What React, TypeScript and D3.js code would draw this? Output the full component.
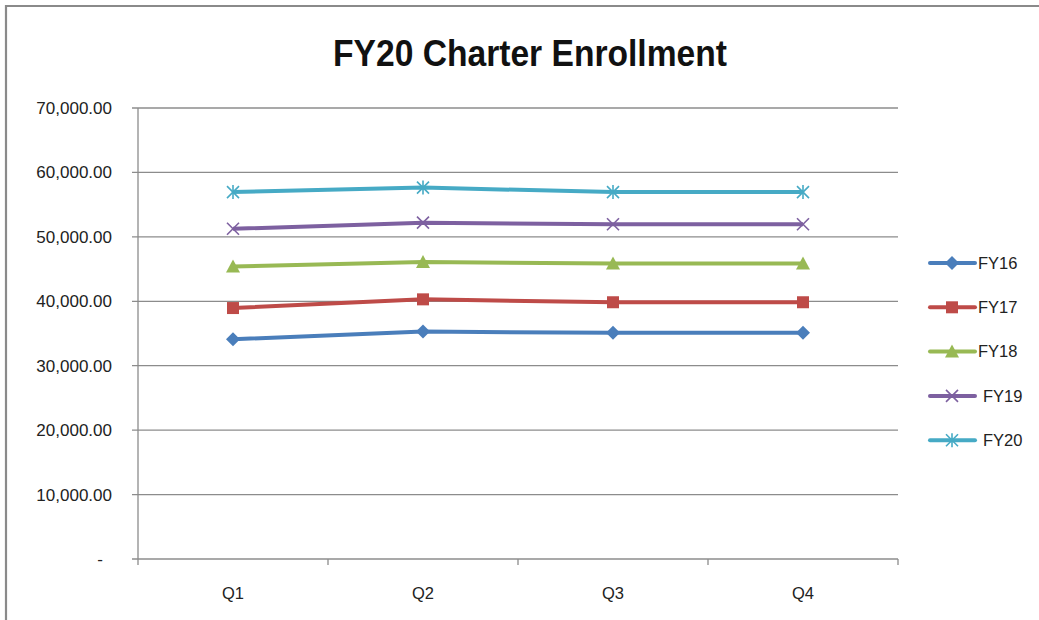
import React from "react";
import * as d3 from "d3";

const quarters = ["Q1", "Q2", "Q3", "Q4"];
const seriesNames = ["FY16", "FY17", "FY18", "FY19", "FY20"];
const fy16 = [34100, 35300, 35100, 35100];
const fy17 = [38950, 40300, 39850, 39850];
const fy18 = [45400, 46100, 45850, 45850];
const fy19 = [51250, 52200, 51950, 51950];
const fy20 = [56950, 57650, 56950, 56950];
const seriesValues = [fy16, fy17, fy18, fy19, fy20];
const seriesColors = ["#4a7ebb", "#be4b48", "#98b954", "#7d60a0", "#46aac5"];
const markerTypes = ["diamond", "square", "triangle", "x", "star"];
const yTicks = [0, 10000, 20000, 30000, 40000, 50000, 60000, 70000];

const W = 1039;
const H = 620;
const plotLeft = 138;
const plotRight = 898;
const plotTop = 108;
const plotBottom = 559;

function Marker({ type, x, y, color }: { type: string; x: number; y: number; color: string }) {
  const s = 6;
  if (type === "diamond") {
    return <path d={`M${x},${y - s - 1}L${x + s + 1},${y}L${x},${y + s + 1}L${x - s - 1},${y}Z`} fill={color} />;
  }
  if (type === "square") {
    return <rect x={x - s} y={y - s} width={2 * s} height={2 * s} fill={color} />;
  }
  if (type === "triangle") {
    return <path d={`M${x},${y - s - 1}L${x + s + 1},${y + s}L${x - s - 1},${y + s}Z`} fill={color} />;
  }
  if (type === "x") {
    return (
      <g stroke={color} strokeWidth={1.6}>
        <line x1={x - s} y1={y - s} x2={x + s} y2={y + s} />
        <line x1={x - s} y1={y + s} x2={x + s} y2={y - s} />
      </g>
    );
  }
  return (
    <g stroke={color} strokeWidth={1.6}>
      <line x1={x - s} y1={y - s} x2={x + s} y2={y + s} />
      <line x1={x - s} y1={y + s} x2={x + s} y2={y - s} />
      <line x1={x} y1={y - s - 1} x2={x} y2={y + s + 1} />
    </g>
  );
}

export default function App() {
  const x = d3.scaleBand<string>().domain(quarters).range([plotLeft, plotRight]);
  const y = d3.scaleLinear().domain([0, 70000]).range([plotBottom, plotTop]);
  const cx = (q: string) => (x(q) as number) + x.bandwidth() / 2;
  const line = d3
    .line<number>()
    .x((_, i) => cx(quarters[i]))
    .y((v) => y(v));
  const fmt = d3.format(",.2f");
  const gridColor = "#8c8c8c";
  const font = "'Liberation Sans', Arial, sans-serif";

  const legendX = 930;
  const legendY0 = 263;
  const legendStep = 44.3;

  return (
    <svg
      width={W}
      height={H}
      style={{ position: "absolute", left: 0, top: 0, background: "#fff" }}
      fontFamily={font}
    >
      <rect x={0} y={0} width={W} height={H} fill="#fff" />
      <path d={`M6,${H + 5}V6H${W + 5}`} fill="none" stroke="#8a8a8a" strokeWidth={2.2} />
      <text
        x={530}
        y={66}
        textAnchor="middle"
        fontSize={37}
        fontWeight="bold"
        fill="#111"
        textLength={394}
        lengthAdjust="spacingAndGlyphs"
      >
        FY20 Charter Enrollment
      </text>

      {yTicks.map((t) => (
        <g key={t}>
          <line x1={plotLeft - 6} x2={plotRight} y1={y(t)} y2={y(t)} stroke={gridColor} strokeWidth={1.3} />
          <text x={t === 0 ? 103 : 112} y={y(t)} dy="0.35em" textAnchor="end" fontSize={17} fill="#222">
            {t === 0 ? "-" : fmt(t)}
          </text>
        </g>
      ))}
      <line x1={plotLeft} x2={plotLeft} y1={plotTop} y2={plotBottom + 6} stroke={gridColor} strokeWidth={1.3} />
      {quarters.map((q) => (
        <line
          key={"tk" + q}
          x1={(x(q) as number) + x.bandwidth()}
          x2={(x(q) as number) + x.bandwidth()}
          y1={plotBottom}
          y2={plotBottom + 6}
          stroke={gridColor}
          strokeWidth={1.3}
        />
      ))}
      {quarters.map((q) => (
        <text key={q} x={cx(q)} y={599} textAnchor="middle" fontSize={16.5} fill="#222">
          {q}
        </text>
      ))}

      {seriesValues.map((vals, si) => (
        <g key={seriesNames[si]}>
          <path d={line(vals) || ""} fill="none" stroke={seriesColors[si]} strokeWidth={4} strokeLinejoin="round" />
          {vals.map((v, i) => (
            <Marker key={i} type={markerTypes[si]} x={cx(quarters[i])} y={y(v)} color={seriesColors[si]} />
          ))}
        </g>
      ))}

      {seriesNames.map((n, si) => {
        const ly = legendY0 + si * legendStep;
        return (
          <g key={"lg" + n}>
            <line x1={legendX} x2={legendX + 45} y1={ly} y2={ly} stroke={seriesColors[si]} strokeWidth={4} strokeLinecap="round" />
            <Marker type={markerTypes[si]} x={legendX + 22} y={ly} color={seriesColors[si]} />
            <text x={si >= 3 ? 983 : 978} y={ly} dy="0.35em" fontSize={16.5} fill="#222">
              {n}
            </text>
          </g>
        );
      })}
    </svg>
  );
}
